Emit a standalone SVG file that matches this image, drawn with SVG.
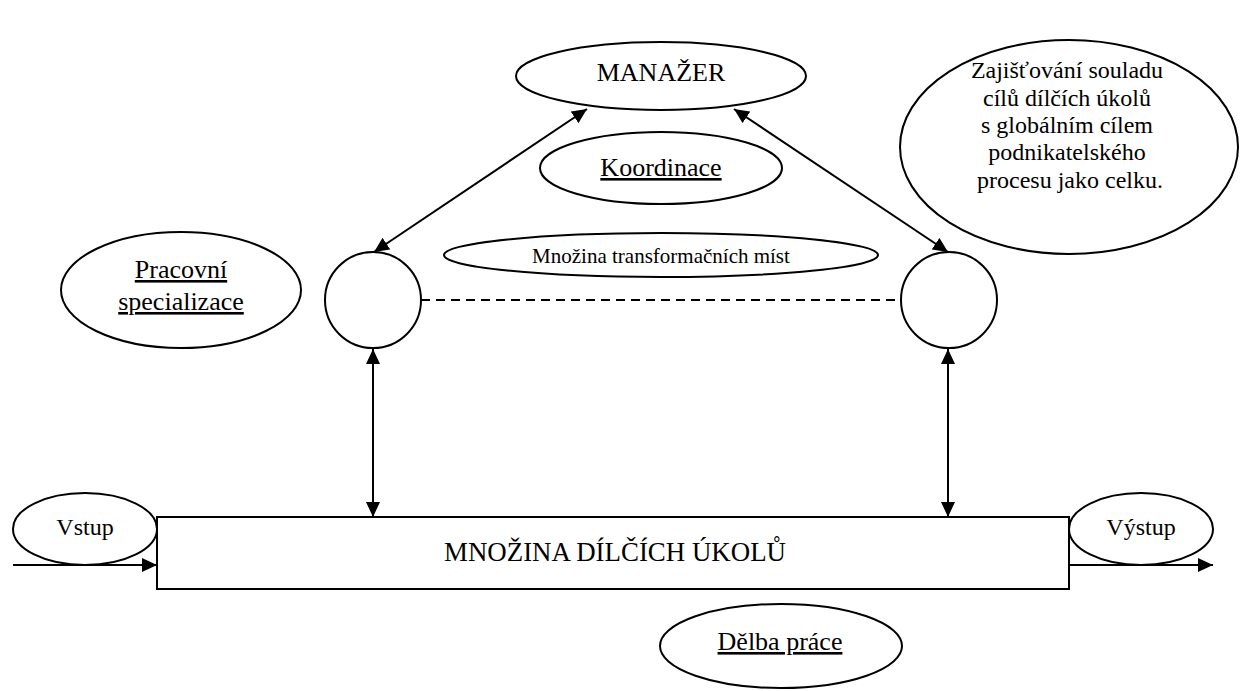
<svg xmlns="http://www.w3.org/2000/svg" width="1244" height="691" viewBox="0 0 1244 691">
  <style>
    .shape { fill: #ffffff; stroke: #000000; stroke-width: 2; }
    .link { fill: none; stroke: #000000; stroke-width: 2; }
    .dash { fill: none; stroke: #000000; stroke-width: 2; stroke-dasharray: 9 6; }
    text { font-family: "Liberation Serif", "Times New Roman", serif; fill: #000000; text-anchor: middle; }
    .u { text-decoration: underline; }
  </style>
  <defs>
    <marker id="arrow" markerUnits="userSpaceOnUse" markerWidth="16" markerHeight="14" refX="15" refY="7" orient="auto-start-reverse">
      <path d="M0,0 L15,7 L0,14 Z" fill="#000000"/>
    </marker>
  </defs>

  <rect width="1244" height="691" fill="#ffffff"/>

  <!-- connectors -->
  <g id="connectors">
    <line class="link" x1="587" y1="109" x2="374" y2="252" marker-start="url(#arrow)" marker-end="url(#arrow)"/>
    <line class="link" x1="734" y1="109" x2="948" y2="252" marker-start="url(#arrow)" marker-end="url(#arrow)"/>
    <line class="dash" x1="421" y1="300" x2="901" y2="300"/>
    <line class="link" x1="373" y1="349" x2="373" y2="517" marker-start="url(#arrow)" marker-end="url(#arrow)"/>
    <line class="link" x1="948" y1="349" x2="948" y2="517" marker-start="url(#arrow)" marker-end="url(#arrow)"/>
    <line class="link" x1="13" y1="565" x2="157" y2="565" marker-end="url(#arrow)"/>
    <line class="link" x1="1069" y1="565" x2="1213" y2="565" marker-end="url(#arrow)"/>
  </g>

  <!-- manager -->
  <g id="manazer">
    <ellipse class="shape" cx="661" cy="76" rx="145" ry="34"/>
    <text x="661" y="81" font-size="26">MANAŽER</text>
  </g>

  <g id="koordinace">
    <ellipse class="shape" cx="661" cy="168" rx="121" ry="36"/>
    <text class="u" x="661" y="176" font-size="26">Koordinace</text>
  </g>

  <g id="souladu">
    <ellipse class="shape" cx="1069" cy="147" rx="169" ry="107"/>
    <text x="1070" font-size="24">
      <tspan x="1070" y="78">Zajišťování souladu</tspan>
      <tspan x="1070" y="106">cílů dílčích úkolů</tspan>
      <tspan x="1070" y="133">s globálním cílem</tspan>
      <tspan x="1070" y="160">podnikatelského</tspan>
      <tspan x="1070" y="188">procesu jako celku.</tspan>
    </text>
  </g>

  <g id="specializace">
    <ellipse class="shape" cx="181" cy="290" rx="120" ry="58"/>
    <text class="u" x="181" y="278" font-size="26">Pracovní</text>
    <text class="u" x="181" y="310" font-size="26">specializace</text>
  </g>

  <g id="mista">
    <ellipse class="shape" cx="661" cy="255" rx="217" ry="22"/>
    <text x="661" y="263" font-size="21">Množina transformačních míst</text>
  </g>

  <g id="misto-levo">
    <circle class="shape" cx="373" cy="300" r="48"/>
  </g>

  <g id="misto-pravo">
    <circle class="shape" cx="949" cy="300" r="48"/>
  </g>

  <g id="vstup">
    <ellipse class="shape" cx="85" cy="529" rx="72" ry="36"/>
    <text x="85" y="535" font-size="24">Vstup</text>
  </g>

  <g id="vystup">
    <ellipse class="shape" cx="1141" cy="529" rx="72" ry="36"/>
    <text x="1141" y="535" font-size="24">Výstup</text>
  </g>

  <g id="ukoly">
    <rect class="shape" x="157" y="517" width="912" height="72"/>
    <text x="615" y="561" font-size="28" textLength="342" lengthAdjust="spacingAndGlyphs">MNOŽINA DÍLČÍCH ÚKOLŮ</text>
  </g>

  <g id="delba">
    <ellipse class="shape" cx="781" cy="646" rx="121" ry="42"/>
    <text class="u" x="780" y="650" font-size="26">Dělba práce</text>
  </g>
</svg>
